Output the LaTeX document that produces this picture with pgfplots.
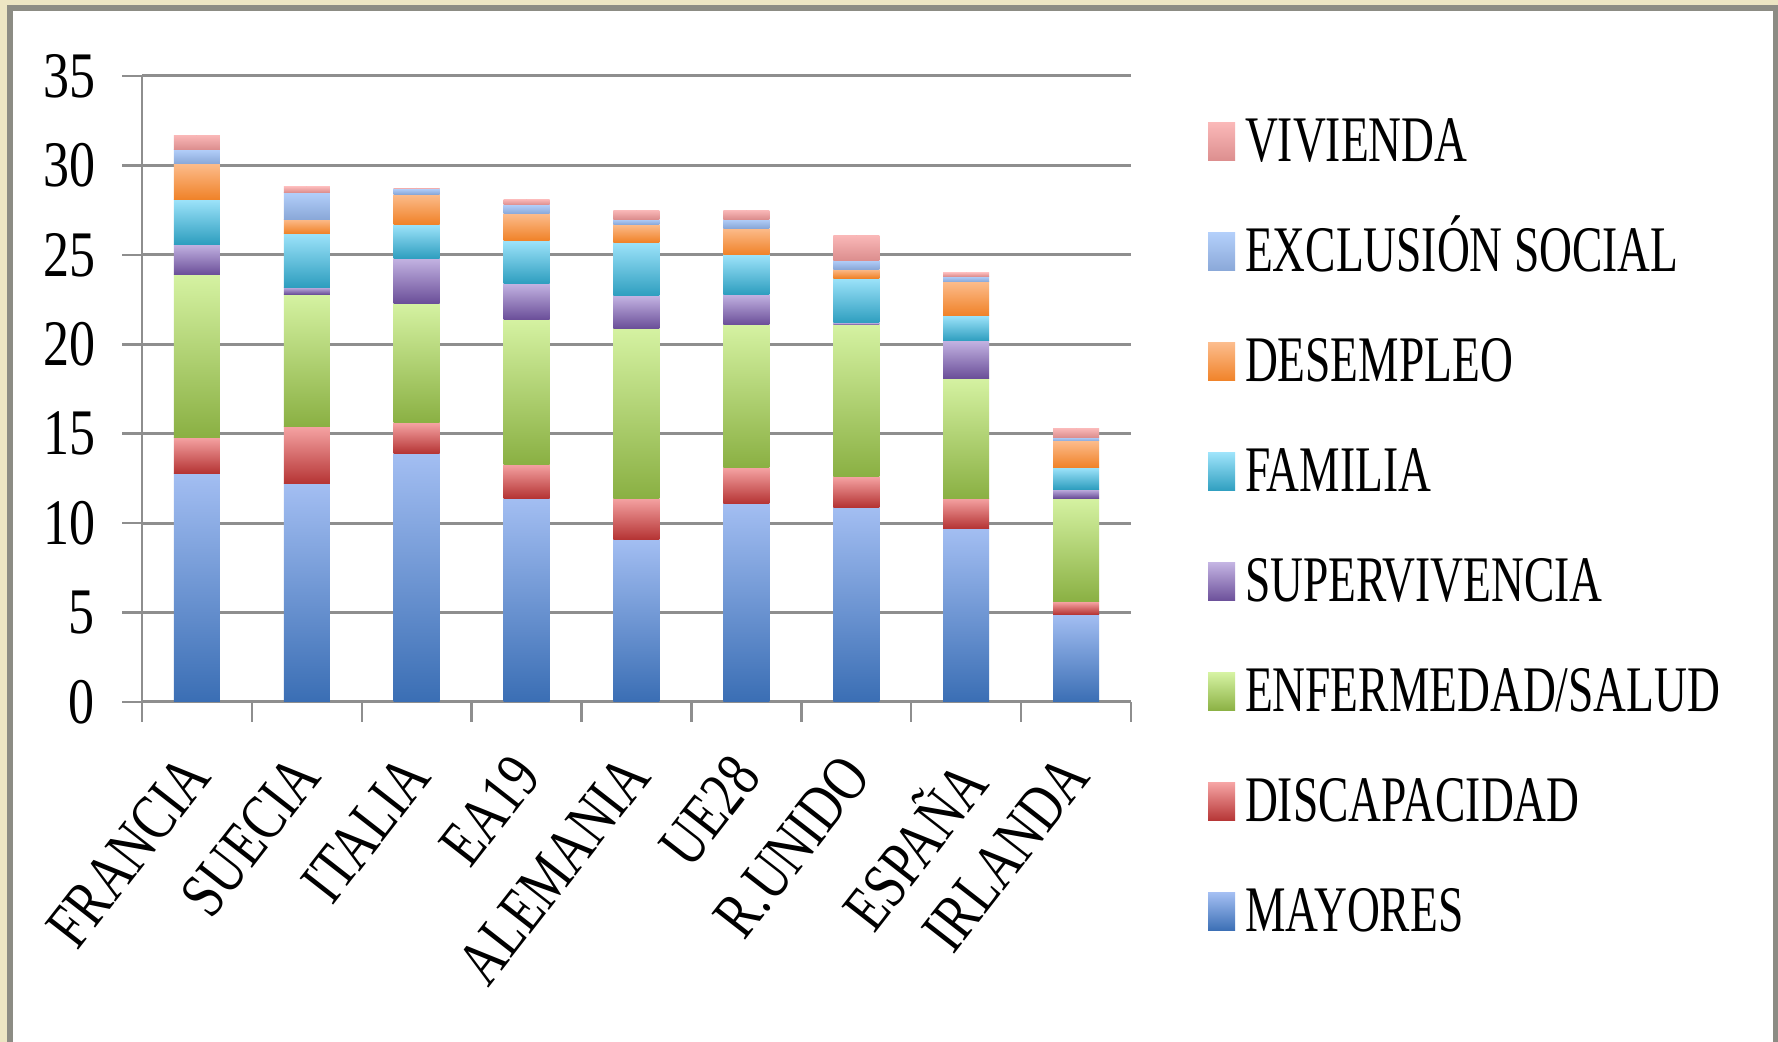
\documentclass[border=0pt]{standalone}
\usepackage{pgfplots}
\pgfplotsset{compat=1.18}
\usepackage{pgfplotstable}
\usepackage{fontspec}
\setmainfont[FakeStretch=0.7]{Liberation Serif}
\newfontfamily\xfont[FakeStretch=0.77]{Liberation Serif}
\newfontfamily\yfont[FakeStretch=0.8]{Liberation Serif}

\definecolor{framebeige}{HTML}{ECE5C3}
\definecolor{framegray}{HTML}{8C8C84}
\definecolor{gridgray}{HTML}{8E8E8E}
\definecolor{mayT}{HTML}{A3BEF2}\definecolor{mayB}{HTML}{3A6EB4}
\definecolor{disT}{HTML}{F5A3A3}\definecolor{disB}{HTML}{B53434}
\definecolor{enfT}{HTML}{D5F2A2}\definecolor{enfB}{HTML}{8AB043}
\definecolor{supT}{HTML}{C3B3E2}\definecolor{supB}{HTML}{6B4F99}
\definecolor{famT}{HTML}{9DE3FA}\definecolor{famB}{HTML}{2E9EBF}
\definecolor{desT}{HTML}{FCBC8C}\definecolor{desB}{HTML}{F08228}
\definecolor{excT}{HTML}{B3CFFA}\definecolor{excB}{HTML}{8AA8D8}
\definecolor{vivT}{HTML}{FAB8B8}\definecolor{vivB}{HTML}{DC8E8E}

\pgfplotstableread{
x   may  dis  enf  sup  fam  des  exc  viv
0   12.8 2.0  9.1  1.7  2.5  2.0  0.8  0.8
1   12.2 3.2  7.4  0.4  3.0  0.8  1.5  0.3
2   13.9 1.7  6.7  2.5  1.9  1.7  0.3  0.05
3   11.4 1.9  8.1  2.0  2.4  1.5  0.5  0.3
4   9.1  2.3  9.5  1.8  3.0  1.0  0.3  0.5
5   11.1 2.0  8.0  1.7  2.2  1.5  0.5  0.5
6   10.9 1.7  8.5  0.1  2.5  0.5  0.5  1.4
7   9.7  1.7  6.7  2.1  1.4  1.9  0.3  0.2
8   4.9  0.7  5.8  0.5  1.2  1.5  0.2  0.5
}\datatable

% one shaded bar segment per data point (value in column #1, colours #2 top, #3 bottom)
\pgfplotsset{
  seg/.style n args={3}{
    stack plots=y, only marks, scatter, point meta=y,
    mark=*, mark size=0pt, mark options={draw=none, fill=none},
    visualization depends on={\thisrow{#1} \as \segh},
    scatter/@pre marker code/.code={%
      \shade[draw=none, top color=#2, bottom color=#3]
        (-4.6pt,{-3.57714pt*\segh}) rectangle (4.6pt,0pt);},
    scatter/@post marker code/.code={},
    legend image code/.code={\shade[draw=none, top color=#2, bottom color=#3]
        (0pt,-3.8pt) rectangle (5.4pt,3.8pt);},
  },
}

\begin{document}
\begin{tikzpicture}
\path[use as bounding box] (0,0) rectangle (355.6pt,208.4pt);
\fill[framebeige] (0,0) rectangle (355.6pt,208.4pt);
\fill[framegray] (1.4pt,0) rectangle (355.6pt,207.4pt);
\fill[white] (2.6pt,0) rectangle (354.6pt,206.2pt);
\begin{axis}[
  at={(28.4pt,68pt)}, anchor=south west,
  scale only axis, width=197.8pt, height=125.2pt,
  xmin=-0.5, xmax=8.5, ymin=0, ymax=35,
  axis x line*=bottom, axis y line*=left,
  axis line style={gridgray, line width=0.5pt},
  xtick={-0.5,0.5,...,8.5},
  xticklabels={},
  extra x ticks={0,...,8},
  extra x tick labels={FRANCIA,SUECIA,ITALIA,EA19,ALEMANIA,UE28,R.UNIDO,ESPAÑA,IRLANDA},
  extra x tick style={major tick length=0pt, grid=none},
  xticklabel style={font=\xfont\fontsize{13}{13}\selectfont, inner sep=0pt,
    anchor=north east, xshift=-3.6pt, yshift=-9.6pt, rotate=52},
  ytick={0,5,...,35},
  ymajorgrids,
  grid style={gridgray, line width=0.6pt},
  tick style={gridgray, line width=0.5pt},
  tick align=outside, major tick length=4pt,
  /pgf/number format/assume math mode=true,
  yticklabel style={font=\yfont\fontsize{13}{13}\selectfont, inner sep=0pt, xshift=-5.2pt},
  clip=false,
  reverse legend,
  legend style={at={(1.0779,0.9425)}, anchor=north west, draw=none, fill=none,
    inner sep=0pt, outer sep=0pt, row sep=10pt, column sep=2pt,
    font=\fontsize{13}{13}\selectfont,
    nodes={inner sep=0pt, text height=10pt, text depth=2pt}},
  legend cell align=left,
]
\addplot[seg={may}{mayT}{mayB}] table[x=x,y=may]{\datatable};
\addplot[seg={dis}{disT}{disB}] table[x=x,y=dis]{\datatable};
\addplot[seg={enf}{enfT}{enfB}] table[x=x,y=enf]{\datatable};
\addplot[seg={sup}{supT}{supB}] table[x=x,y=sup]{\datatable};
\addplot[seg={fam}{famT}{famB}] table[x=x,y=fam]{\datatable};
\addplot[seg={des}{desT}{desB}] table[x=x,y=des]{\datatable};
\addplot[seg={exc}{excT}{excB}] table[x=x,y=exc]{\datatable};
\addplot[seg={viv}{vivT}{vivB}] table[x=x,y=viv]{\datatable};
\legend{MAYORES,DISCAPACIDAD,ENFERMEDAD/SALUD,SUPERVIVENCIA,FAMILIA,DESEMPLEO,EXCLUSIÓN SOCIAL,VIVIENDA}
\end{axis}
\end{tikzpicture}
\end{document}
